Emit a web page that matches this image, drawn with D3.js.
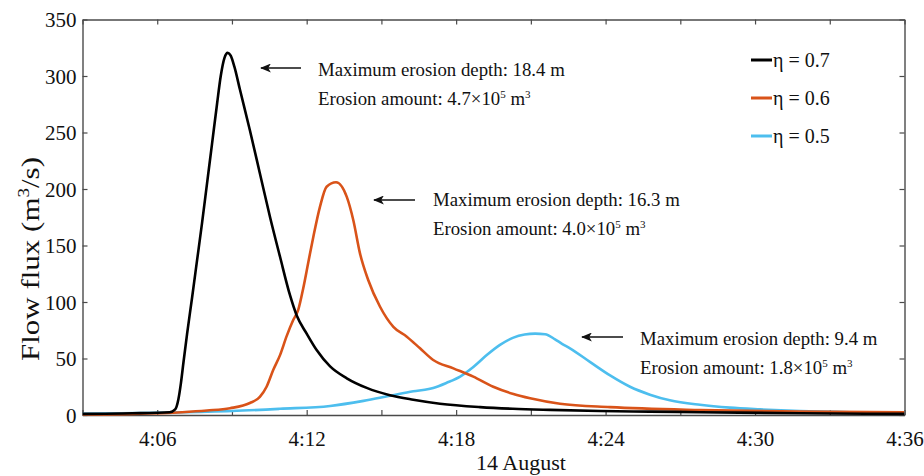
<!DOCTYPE html>
<html>
<head>
<meta charset="utf-8">
<script src="https://cdn.jsdelivr.net/npm/d3@7"></script>
<style>
  html, body { margin: 0; padding: 0; background: #fff; }
  svg { display: block; font-family: "Liberation Serif", "Times New Roman", serif; }
</style>
</head>
<body>
<svg id="chart" width="924" height="476"></svg>
<script>
// Flow flux hydrographs (minutes after 4:00, 14 August) for three η values
const timesEta07 = [3.0, 5.0, 6.5, 6.72, 6.85, 6.95, 7.05, 7.2, 7.4, 7.6, 7.8, 8.0, 8.2, 8.4, 8.55, 8.7, 8.83, 8.95, 9.1, 9.32, 9.72, 10.12, 10.53, 10.93, 11.33, 11.6, 12.0, 12.4, 12.94, 13.61, 14.41, 15.34, 16.28, 17.35, 18.96, 20.28, 21.77, 23.78, 25.77, 27.78, 31.8, 36.0];
const fluxEta07  = [1, 1.5, 2.5, 5, 14, 28, 46, 72, 104, 137, 170, 205, 240, 275, 300, 316, 320.5, 318, 308, 288, 252, 214, 175, 140, 106, 88, 72, 57.5, 43, 32.5, 24, 17.5, 13.5, 10, 7, 5.5, 4.5, 3.5, 3, 2.5, 1.5, 1];

const timesEta06 = [3.0, 5.0, 7.0, 8.0, 8.92, 9.72, 10.12, 10.39, 10.66, 10.93, 11.2, 11.46, 11.66, 11.86, 12.06, 12.27, 12.53, 12.8, 13.18, 13.61, 13.87, 14.14, 14.47, 14.94, 15.48, 16.02, 16.55, 17.08, 17.89, 18.69, 19.49, 20.3, 20.97, 22.17, 24.18, 27.79, 31.8, 36.0];
const fluxEta06  = [0.5, 1, 2.5, 4, 6, 10.6, 16, 25, 40, 53, 70, 84, 93, 112, 134.5, 158, 184, 202, 206, 193, 172.6, 143, 119.5, 96, 78, 69.3, 59, 48.7, 41.3, 34, 25, 18.6, 14.8, 10, 7, 4.4, 3, 2.5];

const timesEta05 = [3.0, 6.0, 9.0, 10.93, 12.94, 14.28, 15.34, 16.28, 16.9, 17.08, 17.62, 18.16, 18.69, 19.23, 19.76, 20.3, 20.75, 21.17, 21.57, 21.97, 22.25, 22.57, 23.37, 24.18, 24.98, 25.78, 26.58, 27.79, 28.99, 30.2, 31.8, 33.81, 36.0];
const fluxEta05  = [1, 2, 3.5, 5.5, 8, 12.5, 17, 21, 23, 24, 28.5, 34, 42.5, 53, 62, 68.5, 71.2, 72, 71.5, 67, 63, 59, 47, 35, 25, 18, 13, 9, 6.5, 5, 3.5, 2.5, 2];

const seriesNames  = ["η = 0.7", "η = 0.6", "η = 0.5"];
const seriesColors = ["#000000", "#D95319", "#4DBEEE"];

const yTicks = [0, 50, 100, 150, 200, 250, 300, 350];
const xTickMinutes = [3, 6, 9, 12, 15, 18, 21, 24, 27, 30, 33, 36];

// Annotation text for each peak
const annDepth  = ["Maximum erosion depth: 18.4 m", "Maximum erosion depth: 16.3 m", "Maximum erosion depth: 9.4 m"];
const annAmount = ["4.7", "4.0", "1.8"];

const at = m => new Date(2000, 7, 14, 4, 0, 0, Math.round(m * 60000));

const svg = d3.select("#chart");
const plotLeft = 82.5, plotRight = 904.5, plotTop = 19.5, plotBottom = 415;

const x = d3.scaleTime().domain([at(3), at(36)]).range([plotLeft, plotRight]);
const y = d3.scaleLinear().domain([0, 350]).range([plotBottom, plotTop]);

const axisColor = "#4a4a4a";
const fmt = d => {
  const m = d.getMinutes();
  return m % 6 === 0 && m !== 0 ? `4:${String(m).padStart(2, "0")}` : "";
};
const tickDates = xTickMinutes.map(at);

function styleAxis(g) {
  g.selectAll("path.domain").attr("stroke", axisColor).attr("stroke-width", 1.4);
  g.selectAll(".tick line").attr("stroke", axisColor).attr("stroke-width", 1.2);
  g.selectAll(".tick text").attr("fill", "#111").style("font-family", '"Liberation Serif", serif');
}

// bottom axis
const gx = svg.append("g").attr("transform", `translate(0,${plotBottom})`)
  .call(d3.axisBottom(x).tickValues(tickDates).tickFormat(fmt).tickSizeInner(-5).tickSizeOuter(0));
styleAxis(gx);
gx.selectAll(".tick text").attr("y", 16).attr("dy", "0.71em").style("font-size", "21px");

// top axis
const gxt = svg.append("g").attr("transform", `translate(0,${plotTop})`)
  .call(d3.axisTop(x).tickValues(tickDates).tickFormat("").tickSizeInner(-5).tickSizeOuter(0));
styleAxis(gxt);

// left axis
const gy = svg.append("g").attr("transform", `translate(${plotLeft},0)`)
  .call(d3.axisLeft(y).tickValues(yTicks).tickSizeInner(-5).tickSizeOuter(0));
styleAxis(gy);
gy.selectAll(".tick text").attr("x", -6).attr("dy", "0.34em").style("font-size", "21px");

// right axis
const gyr = svg.append("g").attr("transform", `translate(${plotRight},0)`)
  .call(d3.axisRight(y).tickValues(yTicks).tickFormat("").tickSizeInner(-5).tickSizeOuter(0));
styleAxis(gyr);

// curves
const series = [
  { t: timesEta07, v: fluxEta07 },
  { t: timesEta06, v: fluxEta06 },
  { t: timesEta05, v: fluxEta05 }
];
const line = d3.line().x(d => x(at(d[0]))).y(d => y(d[1])).curve(d3.curveMonotoneX);

svg.append("clipPath").attr("id", "plotclip")
  .append("rect").attr("x", plotLeft).attr("y", plotTop)
  .attr("width", plotRight - plotLeft).attr("height", plotBottom - plotTop + 2);

// draw in reverse so the black curve sits on top
[2, 1, 0].forEach(i => {
  const s = series[i];
  svg.append("path")
    .datum(s.t.map((t, k) => [t, s.v[k]]))
    .attr("clip-path", "url(#plotclip)")
    .attr("fill", "none")
    .attr("stroke", seriesColors[i])
    .attr("stroke-width", 2.6)
    .attr("stroke-linejoin", "round")
    .attr("d", line);
});

// legend
const legend = svg.append("g");
seriesNames.forEach((name, i) => {
  const ly = 60 + i * 38;
  legend.append("line").attr("x1", 751).attr("x2", 772).attr("y1", ly).attr("y2", ly)
    .attr("stroke", seriesColors[i]).attr("stroke-width", 3);
  legend.append("text").attr("x", 773).attr("y", ly + 6.5)
    .style("font-size", "20px").attr("fill", "#111").text(name);
});

// annotations with left-pointing arrows
svg.append("defs").append("marker")
  .attr("id", "arrowhead").attr("viewBox", "0 0 12 10").attr("refX", 11).attr("refY", 5)
  .attr("markerWidth", 12).attr("markerHeight", 9).attr("markerUnits", "userSpaceOnUse")
  .attr("orient", "auto")
  .append("path").attr("d", "M0,0 L12,5 L0,10 L3,5 Z").attr("fill", "#111");

const annPos = [
  { ax1: 301, ax2: 261, ay: 68, tx: 318, ty: 76 },
  { ax1: 415, ax2: 374, ay: 200, tx: 433, ty: 206 },
  { ax1: 623, ax2: 582, ay: 337, tx: 640, ty: 345 }
];
annPos.forEach((p, i) => {
  svg.append("line").attr("x1", p.ax1).attr("x2", p.ax2).attr("y1", p.ay).attr("y2", p.ay)
    .attr("stroke", "#111").attr("stroke-width", 1.6).attr("marker-end", "url(#arrowhead)");
  svg.append("text").attr("x", p.tx).attr("y", p.ty).style("font-size", "18.8px").attr("fill", "#111")
    .text(annDepth[i]);
  const t2 = svg.append("text").attr("x", p.tx).attr("y", p.ty + 29).style("font-size", "18.8px").attr("fill", "#111");
  t2.append("tspan").text(`Erosion amount: ${annAmount[i]}×10`);
  t2.append("tspan").attr("dy", -7).style("font-size", "11px").text("5");
  t2.append("tspan").attr("dy", 7).text(" m");
  t2.append("tspan").attr("dy", -7).style("font-size", "11px").text("3");
});

// axis titles
svg.append("text").attr("x", 521).attr("y", 470).attr("text-anchor", "middle")
  .style("font-size", "22px").attr("fill", "#111").text("14 August");

const yl = svg.append("text").attr("transform", "translate(39,259) rotate(-90)")
  .attr("text-anchor", "middle").style("font-size", "26px").attr("fill", "#111")
  .attr("textLength", 204).attr("lengthAdjust", "spacingAndGlyphs");
yl.append("tspan").text("Flow flux (m");
yl.append("tspan").attr("dy", -10).style("font-size", "16px").text("3");
yl.append("tspan").attr("dy", 10).text("/s)");
</script>
</body>
</html>
